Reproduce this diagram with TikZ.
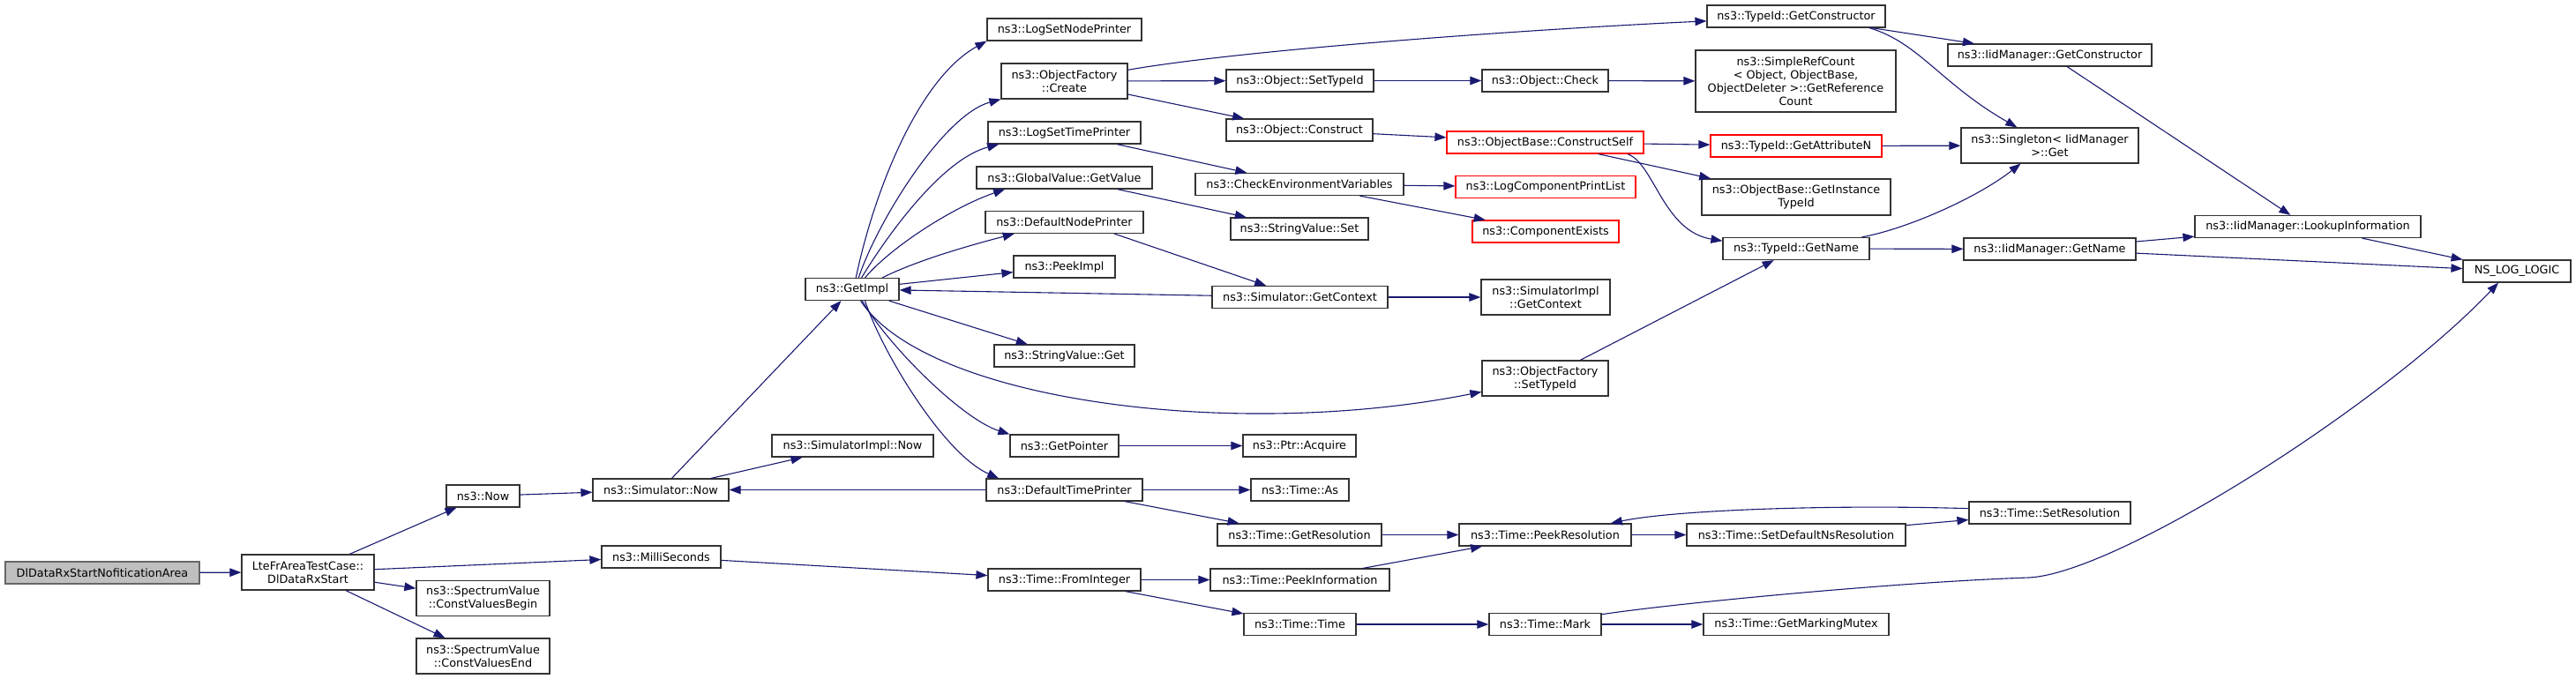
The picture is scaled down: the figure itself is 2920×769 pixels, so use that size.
\documentclass[tikz,border=0pt]{standalone}
\usepackage{fontspec}
\setmainfont{DejaVu Sans}
\usetikzlibrary{arrows.meta}
\definecolor{callblue}{HTML}{191970}
\definecolor{rootgray}{HTML}{BFBFBF}

\begin{document}
\begin{tikzpicture}[x=1pt, y=-1pt,
    fn/.style={draw=black!80, line width=1.2pt, fill=white, inner sep=0pt,
      minimum height=25, align=center, font=\fontsize{12.8}{15}\selectfont},
    fnred/.style={fn, draw=red},
    fnroot/.style={fn, draw=black!60, fill=rootgray},
    call/.style={draw=callblue, line width=1.1pt,
      -{Triangle[length=13pt,width=9.5pt]}, fill=none}]
    \useasboundingbox (0,0) rectangle (2920,769);

    % column 1 and 2
    \node[fnroot, minimum width=220] (root) at (116,649.5) {DlDataRxStartNofiticationArea};
    \node[fn, minimum width=150, minimum height=40] (lte) at (349,649) {LteFrAreaTestCase::\\DlDataRxStart};
    \node[fn, minimum width=83] (now) at (547.5,562.5) {ns3::Now};
    \node[fn, minimum width=151, minimum height=40] (cvb) at (547.5,678.5) {ns3::SpectrumValue\\::ConstValuesBegin};
    \node[fn, minimum width=151, minimum height=40] (cve) at (547.5,744) {ns3::SpectrumValue\\::ConstValuesEnd};
    \node[fn, minimum width=154] (snow) at (749,555.5) {ns3::Simulator::Now};
    \node[fn, minimum width=135] (ms) at (749.5,631.5) {ns3::MilliSeconds};
    \node[fn, minimum width=183] (sinow) at (966.5,505.5) {ns3::SimulatorImpl::Now};
    \node[fn, minimum width=106] (gi) at (966,328) {ns3::GetImpl};

    % column 3
    \node[fn, minimum width=175] (lsnp) at (1206.5,33.5) {ns3::LogSetNodePrinter};
    \node[fn, minimum width=143, minimum height=40] (ofc) at (1206.5,92) {ns3::ObjectFactory\\::Create};
    \node[fn, minimum width=173] (lstp) at (1206.5,150.5) {ns3::LogSetTimePrinter};
    \node[fn, minimum width=199] (gvgv) at (1206.5,201.5) {ns3::GlobalValue::GetValue};
    \node[fn, minimum width=179] (dnp) at (1206.5,252) {ns3::DefaultNodePrinter};
    \node[fn, minimum width=115] (pimpl) at (1206.5,302.5) {ns3::PeekImpl};
    \node[fn, minimum width=159] (svget) at (1206.5,403.5) {ns3::StringValue::Get};
    \node[fn, minimum width=123] (gptr) at (1206.5,505.5) {ns3::GetPointer};
    \node[fn, minimum width=177] (dtp) at (1206.5,555.5) {ns3::DefaultTimePrinter};
    \node[fn, minimum width=173] (tfi) at (1206.5,657.5) {ns3::Time::FromInteger};

    % column 4
    \node[fn, minimum width=167] (ost) at (1473.5,91.5) {ns3::Object::SetTypeId};
    \node[fn, minimum width=166] (oc) at (1473,147.5) {ns3::Object::Construct};
    \node[fn, minimum width=236] (cev) at (1473,209) {ns3::CheckEnvironmentVariables};
    \node[fn, minimum width=156] (svset) at (1473,259.5) {ns3::StringValue::Set};
    \node[fn, minimum width=199] (sgc) at (1473.5,337) {ns3::Simulator::GetContext};
    \node[fn, minimum width=128] (pacq) at (1473,505.5) {ns3::Ptr::Acquire};
    \node[fn, minimum width=111] (tas) at (1473.5,555.5) {ns3::Time::As};
    \node[fn, minimum width=186] (tgr) at (1473,606.5) {ns3::Time::GetResolution};
    \node[fn, minimum width=203] (tpi) at (1473.5,657.5) {ns3::Time::PeekInformation};
    \node[fn, minimum width=127] (ttime) at (1473.5,708) {ns3::Time::Time};

    % column 5
    \node[fn, minimum width=143] (och) at (1751.5,91.5) {ns3::Object::Check};
    \node[fnred, minimum width=223] (ocs) at (1751.5,161.5) {ns3::ObjectBase::ConstructSelf};
    \node[fnred, minimum width=204] (lcpl) at (1752,212) {ns3::LogComponentPrintList};
    \node[fnred, minimum width=166] (cex) at (1752,262.5) {ns3::ComponentExists};
    \node[fn, minimum width=146, minimum height=40] (sigc) at (1752,337) {ns3::SimulatorImpl\\::GetContext};
    \node[fn, minimum width=143, minimum height=40] (ofst) at (1751.5,429) {ns3::ObjectFactory\\::SetTypeId};
    \node[fn, minimum width=195] (tpr) at (1751.5,606.5) {ns3::Time::PeekResolution};
    \node[fn, minimum width=127] (tmark) at (1751.5,708) {ns3::Time::Mark};

    % column 6
    \node[fn, minimum width=202] (tgc) at (2036,18.5) {ns3::TypeId::GetConstructor};
    \node[fn, minimum width=227, minimum height=70] (src) at (2035.5,92) {ns3::SimpleRefCount\\< Object, ObjectBase,\\ ObjectDeleter >::GetReference\\Count};
    \node[fnred, minimum width=194] (tga) at (2036,165.5) {ns3::TypeId::GetAttributeN};
    \node[fn, minimum width=214, minimum height=41] (obgit) at (2036,223.5) {ns3::ObjectBase::GetInstance\\TypeId};
    \node[fn, minimum width=166] (tgn) at (2036,282) {ns3::TypeId::GetName};
    \node[fn, minimum width=248] (tsdnr) at (2036,606.5) {ns3::Time::SetDefaultNsResolution};
    \node[fn, minimum width=210] (tgmm) at (2036,708) {ns3::Time::GetMarkingMutex};

    % column 7 and 8
    \node[fn, minimum width=231] (igc) at (2323.5,62.5) {ns3::IidManager::GetConstructor};
    \node[fn, minimum width=201, minimum height=40] (sget) at (2323.5,165) {ns3::Singleton< IidManager\\ >::Get};
    \node[fn, minimum width=195] (ign) at (2323.5,282.5) {ns3::IidManager::GetName};
    \node[fn, minimum width=183] (tsr) at (2323.5,581.5) {ns3::Time::SetResolution};
    \node[fn, minimum width=256] (ilu) at (2616,257) {ns3::IidManager::LookupInformation};
    \node[fn, minimum width=122] (nll) at (2853,307.5) {NS\_LOG\_LOGIC};

    % calls
    \draw[call] (root) -- (lte);
    \draw[call] (lte) -- (now);
    \draw[call] (lte) -- (ms);
    \draw[call] (lte) -- (cvb);
    \draw[call] (lte) -- (cve);
    \draw[call] (now) -- (snow);
    \draw[call] (snow) -- (gi);
    \draw[call] (snow) -- (sinow);
    \draw[call] (ms) -- (tfi);
    \draw[call] (gi.72) .. controls (990,220) and (1040,90) .. (lsnp.south west);
    \draw[call] (gi.61) .. controls (995,250) and (1070,130) .. (ofc.south west);
    \draw[call] (gi.51) .. controls (1010,260) and (1070,180) .. (lstp.190);
    \draw[call] (gi.42) .. controls (1010,280) and (1080,235) .. (gvgv.191);
    \draw[call] (gi.21) .. controls (1040,295) and (1100,278) .. (dnp.193);
    \draw[call] (gi) -- (pimpl);
    \draw[call] (gi) -- (svget);
    \draw[call] (gi.-54) .. controls (1050,455) and (1400,500) .. (ofst.192);
    \draw[call] (gi.-49) .. controls (1005,390) and (1090,475) .. (gptr.north west);
    \draw[call] (gi.-42) .. controls (1000,400) and (1070,515) .. (dtp.170);
    \draw[call] (dtp) -- (snow);
    \draw[call] (sgc) -- (gi);
    \draw[call] (dnp.-13) -- (sgc);
    \draw[call] (sgc) -- (sigc);
    \draw[call] (ofc.10) .. controls (1400,58) and (1700,35) .. (tgc.183);
    \draw[call] (ofc) -- (ost);
    \draw[call] (ofc) -- (oc);
    \draw[call] (lstp) -- (cev);
    \draw[call] (gvgv) -- (svset);
    \draw[call] (ost) -- (och);
    \draw[call] (och) -- (src);
    \draw[call] (oc) -- (ocs);
    \draw[call] (cev) -- (lcpl);
    \draw[call] (cev) -- (cex);
    \draw[call] (ocs) -- (tga);
    \draw[call] (ocs) -- (obgit);
    \draw[call] (ocs.-8) .. controls (1875,185) and (1885,262) .. (tgn.174);
    \draw[call] (ofst) -- (tgn);
    \draw[call] (tgc) -- (igc);
    \draw[call] (tgc.-9) .. controls (2175,48) and (2200,95) .. (sget.151);
    \draw[call] (tga) -- (sget);
    \draw[call] (tgn.10) .. controls (2160,260) and (2240,225) .. (sget.212);
    \draw[call] (tgn) -- (ign);
    \draw[call] (igc) -- (ilu);
    \draw[call] (ign) -- (ilu);
    \draw[call] (ign) -- (nll);
    \draw[call] (ilu) -- (nll);
    \draw[call] (tmark.10) .. controls (1900,684) and (2150,660) .. (2300,655)
        .. controls (2400,650) and (2700,460) .. (nll.212);
    \draw[call] (gptr) -- (pacq);
    \draw[call] (dtp) -- (tas);
    \draw[call] (dtp) -- (tgr);
    \draw[call] (tfi) -- (tpi);
    \draw[call] (tfi) -- (ttime);
    \draw[call] (tgr) -- (tpr);
    \draw[call] (tpi) -- (tpr);
    \draw[call] (tpr) -- (tsdnr);
    \draw[call] (tsdnr) -- (tsr);
    \draw[call] (tsr.177) .. controls (2080,572) and (1900,578) .. (tpr.10);
    \draw[call] (ttime) -- (tmark);
    \draw[call] (tmark) -- (tgmm);
\end{tikzpicture}
\end{document}
